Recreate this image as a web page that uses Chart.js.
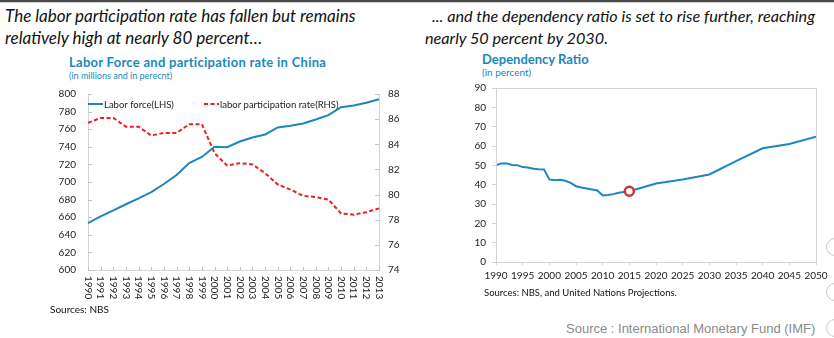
<!DOCTYPE html>
<html>
<head>
<meta charset="utf-8">
<script src="https://cdn.jsdelivr.net/npm/chart.js@4.4.0/dist/chart.umd.min.js"></script>
<style>
  html, body { margin: 0; padding: 0; background: #fff; }
  body { width: 834px; height: 338px; position: relative; overflow: hidden; font-family: Lato, "Open Sans", sans-serif; }
  .topbar { position: absolute; left: 0; top: 0; width: 834px; height: 2px; background: #4a4a4a; border-bottom: 1px solid #d0d0d0; }
  .head { position: absolute; font-style: italic; font-size: 17px; line-height: 22px; color: #111; white-space: nowrap; }
  .ctitle { position: absolute; font-weight: bold; font-size: 13px; color: #1a88bd; white-space: nowrap; }
  .csub { position: absolute; font-size: 9px; color: #1a88bd; white-space: nowrap; }
  .src { position: absolute; font-size: 10px; color: #111; white-space: nowrap; }
  .imf { position: absolute; font-family: "Liberation Sans", Arial, sans-serif; font-size: 13px; color: #8a8a8a; white-space: nowrap; }
  .ring { position: absolute; width: 16px; height: 16px; border-radius: 50%; border: 1.5px solid #c8c8c8; background: #fff; }
  canvas { position: absolute; }
</style>
</head>
<body>
<div class="topbar"></div>

<div class="head" style="left:5px; top:5px;">The labor participation rate has fallen but remains<br>relatively high at nearly 80 percent…</div>
<div class="head" style="left:425px; top:5px; font-size:16.2px; text-indent:7px;">... and the dependency ratio is set to rise further, reaching<br>nearly 50 percent by 2030.</div>

<div class="ctitle" style="left:69px; top:54px; letter-spacing:0.28px;">Labor Force and participation rate in China</div>
<div class="csub" style="left:69px; top:70px;">(in millions and in perecnt)</div>

<div class="ctitle" style="left:482px; top:51px;">Dependency Ratio</div>
<div class="csub" style="left:482px; top:66px; font-size:10px;">(in percent)</div>

<canvas id="laborChart" width="370" height="220" style="left:40px; top:84px;"></canvas>
<canvas id="depChart" width="374" height="210" style="left:460px; top:80px;"></canvas>

<div class="src" style="left:50px; top:303px;">Sources: NBS</div>
<div class="src" style="left:484px; top:287px; font-size:9.5px;">Sources: NBS, and United Nations Projections.</div>
<div class="imf" style="left:566px; top:321px;">Source : International Monetary Fund (IMF)</div>

<div class="ring" style="left:826px; top:238px;"></div>
<div class="ring" style="left:826px; top:283px;"></div>
<div class="ring" style="left:826px; top:319px;"></div>

<script>
// Labor force (millions) and labor participation rate (%), China 1990-2013
const laborYears = ['1990','1991','1992','1993','1994','1995','1996','1997','1998','1999','2000','2001',
                    '2002','2003','2004','2005','2006','2007','2008','2009','2010','2011','2012','2013'];
const laborForce = [653.2, 660.9, 667.8, 674.7, 681.4, 688.6, 697.7, 708.0, 721.5, 728.5, 740.0, 739.5,
                    746.0, 750.5, 754.0, 762.0, 764.0, 766.5, 771.0, 776.0, 785.0, 787.0, 790.0, 794.0];
const participationRate = [85.7, 86.1, 86.1, 85.4, 85.4, 84.7, 84.9, 84.9, 85.6, 85.6, 83.3, 82.3,
                           82.5, 82.4, 81.7, 80.8, 80.4, 79.9, 79.8, 79.6, 78.5, 78.4, 78.6, 78.9];
const laborLeftTicks = { min: 600, max: 800, step: 20 };
const laborRightTicks = { min: 74, max: 88, step: 2 };

// Dependency ratio (%), history and UN projections
const depYears = [1990,1991,1992,1993,1994,1995,1996,1997,1998,1999,2000,2001,2002,2003,2004,
                  2005,2006,2007,2008,2009,2010,2011,2012,2013,2014,2015,2020,2025,2030,2035,2040,2045,2050];
const depRatio = [50.0, 51.0, 51.0, 50.2, 50.1, 49.1, 48.9, 48.2, 48.0, 47.9, 42.7, 42.3, 42.5, 42.0, 40.9,
                  39.2, 38.5, 38.0, 37.5, 37.0, 34.4, 34.6, 35.1, 35.8, 36.2, 36.6, 40.6, 42.7, 45.3, 52.2, 58.8, 61.0, 64.8];
const depHighlightYear = [2015];
const depHighlightValue = [36.6];
const depTicks = { min: 0, max: 90, step: 10 };
const depYearTicks = { min: 1990, max: 2050, step: 5 };

const BLUE = '#1b87bd';
const RED = '#ee1c25';
const AXIS = '#d4d4d4';
const TICKFONT = { family: 'Lato, "Open Sans", sans-serif', size: 10 };

// Fixed axis sizes so the plot areas sit where the layout wants them
const fixWidth = w => s => { s.width = w; s.paddingTop = 0; s.paddingBottom = 0; };
const fixHeight = h => s => { s.height = h; };

// Legend drawn inside the plot area, along the top edge
const innerLegend = {
  id: 'innerLegend',
  afterDraw(chart) {
    const ctx = chart.ctx, a = chart.chartArea;
    const y = a.top + 10;
    const ds = chart.data.datasets;
    const starts = [a.left, a.left + 116];
    ctx.save();
    ctx.font = '9.5px Lato, "Open Sans", sans-serif';
    ctx.textBaseline = 'middle';
    ds.forEach((d, i) => {
      const x = starts[i];
      ctx.strokeStyle = d.borderColor;
      ctx.lineWidth = 2;
      ctx.setLineDash(d.borderDash || []);
      ctx.beginPath(); ctx.moveTo(x, y); ctx.lineTo(x + 15, y); ctx.stroke();
      ctx.setLineDash([]);
      ctx.fillStyle = '#222';
      ctx.fillText(d.label, x + 16, y + 0.5);
    });
    ctx.restore();
  }
};

// Short tick marks pointing into the plot, plus vertical year labels
const laborAxisDecor = {
  id: 'laborAxisDecor',
  afterDraw(chart) {
    const ctx = chart.ctx, a = chart.chartArea;
    const sx = chart.scales.x, sl = chart.scales.y, sr = chart.scales.y1;
    ctx.save();
    ctx.strokeStyle = '#c4c4c4';
    ctx.lineWidth = 1;
    ctx.beginPath();
    sl.ticks.forEach(t => { const y = Math.round(sl.getPixelForValue(t.value)) + 0.5; ctx.moveTo(a.left, y); ctx.lineTo(a.left + 4, y); });
    sr.ticks.forEach(t => { const y = Math.round(sr.getPixelForValue(t.value)) + 0.5; ctx.moveTo(a.right - 4, y); ctx.lineTo(a.right, y); });
    chart.data.labels.forEach((l, i) => { const x = Math.round(sx.getPixelForTick(i)) + 0.5; ctx.moveTo(x, a.bottom); ctx.lineTo(x, a.bottom - 3); });
    ctx.stroke();
    ctx.fillStyle = '#222';
    ctx.font = '10px Lato, "Open Sans", sans-serif';
    ctx.textAlign = 'left';
    ctx.textBaseline = 'middle';
    chart.data.labels.forEach((l, i) => {
      const x = sx.getPixelForTick(i);
      ctx.save();
      ctx.translate(x, a.bottom + 6);
      ctx.rotate(Math.PI / 2);
      ctx.fillText(l, 0, 0);
      ctx.restore();
    });
    ctx.restore();
  }
};

new Chart(document.getElementById('laborChart'), {
  type: 'line',
  data: {
    labels: laborYears,
    datasets: [
      { label: 'Labor force(LHS)', data: laborForce, yAxisID: 'y', borderColor: BLUE, borderWidth: 2,
        pointRadius: 0, tension: 0, fill: false },
      { label: 'labor participation rate(RHS)', data: participationRate, yAxisID: 'y1', borderColor: RED,
        borderWidth: 2, borderDash: [4, 2.5], pointRadius: 0, tension: 0, fill: false }
    ]
  },
  options: {
    responsive: false, animation: false,
    layout: { padding: { top: 10, bottom: 0, left: 0, right: 0 } },
    plugins: { legend: { display: false }, tooltip: { enabled: false } },
    scales: {
      x: { type: 'category', offset: false,
           grid: { display: false }, border: { display: true, color: AXIS },
           ticks: { display: false },
           afterFit: fixHeight(34) },
      y: { position: 'left', min: laborLeftTicks.min, max: laborLeftTicks.max,
           ticks: { stepSize: laborLeftTicks.step, font: TICKFONT, color: '#222', padding: 12 },
           grid: { drawOnChartArea: false, drawTicks: false }, border: { display: true, color: AXIS },
           afterFit: fixWidth(48) },
      y1: { position: 'right', min: laborRightTicks.min, max: laborRightTicks.max,
            ticks: { stepSize: laborRightTicks.step, font: TICKFONT, color: '#222', padding: 9 },
            grid: { drawOnChartArea: false, drawTicks: false }, border: { display: true, color: AXIS },
            afterFit: fixWidth(31) }
    }
  },
  plugins: [innerLegend, laborAxisDecor]
});

// Thin frame around the plot area
const plotFrame = {
  id: 'plotFrame',
  afterDraw(chart) {
    const ctx = chart.ctx, a = chart.chartArea;
    ctx.save();
    ctx.strokeStyle = AXIS;
    ctx.lineWidth = 1;
    ctx.strokeRect(Math.round(a.left) + 0.5, Math.round(a.top) + 0.5, Math.round(a.width), Math.round(a.height));
    ctx.restore();
  }
};

new Chart(document.getElementById('depChart'), {
  type: 'line',
  data: {
    datasets: [
      { label: 'Highlight', data: depHighlightYear.map((x, i) => ({ x, y: depHighlightValue[i] })),
        showLine: false, pointRadius: 4.5, pointBorderWidth: 2.5, pointBorderColor: '#cc3236',
        pointBackgroundColor: '#ffffff', order: 0 },
      { label: 'Dependency Ratio', data: depYears.map((x, i) => ({ x, y: depRatio[i] })),
        borderColor: BLUE, borderWidth: 2, pointRadius: 0, tension: 0, fill: false, order: 1 }
    ]
  },
  options: {
    responsive: false, animation: false,
    layout: { padding: { top: 8, right: 18, left: 0, bottom: 0 } },
    plugins: { legend: { display: false }, tooltip: { enabled: false } },
    scales: {
      x: { type: 'linear', min: depYearTicks.min, max: depYearTicks.max,
           ticks: { stepSize: depYearTicks.step, font: TICKFONT, color: '#222', padding: 5, maxRotation: 0,
                    callback: v => String(v) },
           grid: { drawOnChartArea: false, tickLength: 3, color: AXIS }, border: { display: true, color: AXIS },
           afterFit: fixHeight(28) },
      y: { min: depTicks.min, max: depTicks.max,
           ticks: { stepSize: depTicks.step, font: TICKFONT, color: '#222', padding: 6 },
           grid: { drawOnChartArea: false, tickLength: 4, color: AXIS }, border: { display: true, color: AXIS },
           afterFit: fixWidth(36) }
    }
  },
  plugins: [plotFrame]
});
</script>
</body>
</html>
